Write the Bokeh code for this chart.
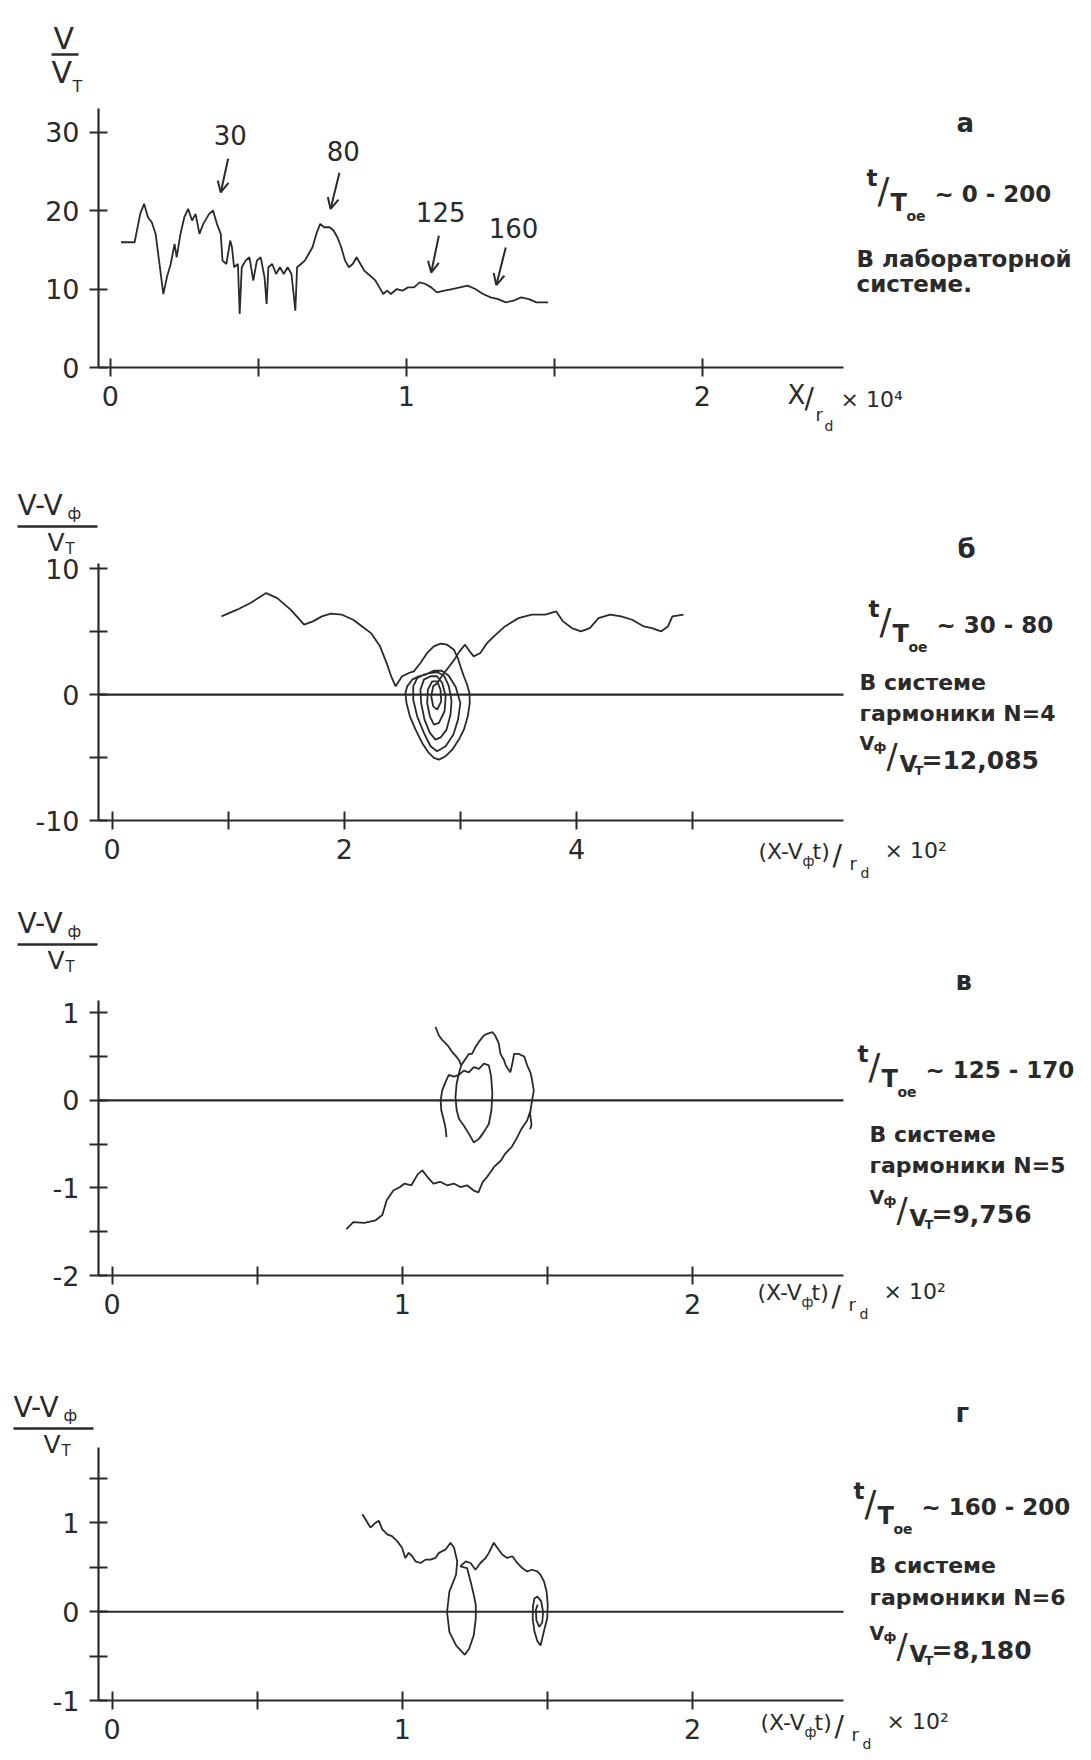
import numpy as np
from bokeh.plotting import figure
from bokeh.models import Label, Arrow, OpenHead, FixedTicker
from bokeh.layouts import column
from bokeh.embed import file_html
from bokeh.resources import INLINE

NAN = np.nan
INK = "#2a2a2a"
FONT = "DejaVu Sans"

# ---------------- panel а : V/V_T vs X/r_d x 10^4 ----------------
a_x = [0.036, 0.082, 0.101, 0.114, 0.127, 0.140, 0.153, 0.166, 0.179, 0.191, 0.204, 0.217, 0.224,
       0.237, 0.250, 0.263, 0.276, 0.288, 0.301, 0.314, 0.334, 0.347, 0.360, 0.373, 0.379, 0.392,
       0.405, 0.411, 0.418, 0.431, 0.437, 0.444, 0.457, 0.470, 0.483, 0.495, 0.508, 0.521, 0.528,
       0.534, 0.547, 0.560, 0.573, 0.586, 0.599, 0.612, 0.625, 0.631, 0.644, 0.657, 0.670, 0.683,
       0.696, 0.709, 0.722, 0.741, 0.754, 0.767, 0.780, 0.793, 0.806, 0.819, 0.832, 0.845, 0.858,
       0.871, 0.884, 0.896, 0.909, 0.922, 0.935, 0.948, 0.968, 0.987, 1.006, 1.026, 1.045, 1.065,
       1.084, 1.103, 1.129, 1.155, 1.181, 1.207, 1.233, 1.259, 1.285, 1.310, 1.336, 1.362, 1.388,
       1.414, 1.440, 1.479]
a_y = [15.96, 15.96, 19.57, 20.85, 19.15, 18.51, 17.02, 13.19, 9.36, 11.49, 13.19, 15.74, 14.04,
       17.02, 19.15, 20.21, 18.72, 19.57, 17.02, 18.30, 19.57, 20.00, 18.30, 17.02, 13.62, 13.19,
       16.17, 15.32, 12.77, 13.19, 6.81, 12.77, 13.62, 14.04, 11.06, 13.62, 14.04, 11.49, 8.09,
       12.77, 13.19, 11.91, 12.77, 11.91, 12.77, 11.91, 7.23, 12.77, 13.19, 13.62, 14.47, 15.32,
       17.02, 18.30, 17.87, 17.87, 17.45, 16.60, 15.32, 13.62, 12.77, 13.19, 14.04, 13.19, 12.34,
       11.91, 11.49, 11.06, 10.21, 9.36, 9.79, 9.36, 10.00, 9.79, 10.21, 10.21, 10.85, 10.64,
       10.21, 9.57, 9.79, 10.00, 10.21, 10.43, 10.00, 9.36, 8.94, 8.72, 8.30, 8.51, 8.94,
       8.72, 8.30, 8.30]
a_marks = ["30", "80", "125", "160"]
a_mark_x = [0.405, 0.787, 1.116, 1.362]
a_mark_y = [29.6, 27.6, 19.8, 17.8]
a_arrow_x0 = [0.398, 0.774, 1.110, 1.336]
a_arrow_y0 = [26.6, 24.8, 16.8, 15.3]
a_arrow_x1 = [0.373, 0.744, 1.084, 1.304]
a_arrow_y1 = [22.3, 20.2, 12.1, 10.5]
a_xticks = [0, 0.5, 1, 1.5, 2]
a_xtick_labels = ["0", "", "1", "", "2"]
a_yticks = [0, 10, 20, 30]
a_ytick_labels = ["0", "10", "20", "30"]

# ---------------- panel б : N=4 ----------------
b_x = [0.942, 1.077, 1.192, 1.327, 1.423, 1.538, 1.654, 1.730, 1.807, 1.884, 1.980, 2.077, 2.154,
       2.230, 2.308, 2.365, 2.404, 2.442, 2.498, 2.556, 2.599, 2.656, 2.714, 2.771, 2.829, 2.886,
       2.944, 2.978, 3.000, 3.030, 3.058, 3.078, 3.081, 3.064, 3.030, 2.987, 2.930, 2.873, 2.815,
       2.772, 2.728, 2.671, 2.614, 2.565, 2.536, 2.527, 2.542, 2.585, 2.642, 2.700, 2.770, 2.840,
       2.900, 2.960, 3.000, 2.980, 2.940, 2.873, 2.800, 2.743, 2.686, 2.628, 2.594, 2.594, 2.628,
       2.686, 2.743, 2.800, 2.860, 2.900, 2.924, 2.915, 2.880, 2.830, 2.786, 2.737, 2.691, 2.662,
       2.656, 2.686, 2.743, 2.800, 2.844, 2.873, 2.864, 2.815, 2.772, 2.737, 2.714, 2.720, 2.757,
       2.800, 2.829, 2.835, 2.800, 2.766, 2.749, 2.766, 2.800, 2.850, 2.900, 2.950, 2.990, 3.040,
       3.080, 3.115, 3.172, 3.230, 3.288, 3.384, 3.500, 3.615, 3.730, 3.826, 3.884, 3.960, 4.038,
       4.115, 4.190, 4.288, 4.384, 4.480, 4.580, 4.650, 4.730, 4.788, 4.826, 4.922]
b_y = [6.22, 6.75, 7.28, 8.07, 7.67, 6.75, 5.56, 5.82, 6.22, 6.43, 6.35, 5.95, 5.42,
       4.89, 3.84, 2.51, 1.46, 0.66, 1.46, 1.72, 1.85, 2.51, 3.31, 3.84, 4.05, 3.97,
       3.57, 2.91, 2.25, 1.46, 0.79, 0.13, -0.66, -1.72, -2.78, -3.57, -4.37, -4.89, -5.16,
       -5.03, -4.63, -3.84, -2.78, -1.72, -0.66, 0.13, 0.66, 1.19, 1.46, 1.59, 1.90, 1.90,
       1.50, 0.60, -0.66, -1.98, -3.17, -4.10, -4.50, -4.10, -3.04, -1.72, -0.40, 0.66, 1.32,
       1.59, 1.72, 1.80, 1.50, 0.70, -0.50, -1.60, -2.80, -3.40, -3.57, -3.04, -1.98, -0.66,
       0.40, 1.19, 1.46, 1.46, 0.93, -0.13, -1.32, -2.25, -2.38, -1.72, -0.66, 0.40, 1.06,
       1.06, 0.40, -0.53, -1.19, -0.93, -0.13, 0.66, 0.90, 1.60, 2.20, 2.80, 3.40, 3.97,
       3.44, 3.04, 3.31, 4.10, 4.63, 5.42, 6.08, 6.35, 6.35, 6.61, 5.82, 5.29, 5.03,
       5.29, 6.08, 6.35, 6.22, 5.95, 5.42, 5.29, 5.03, 5.42, 6.22, 6.35]
b_xticks = [0, 1, 2, 3, 4, 5]
b_xtick_labels = ["0", "", "2", "", "4", ""]
b_yticks = [-10, -5, 0, 5, 10]
b_ytick_labels = ["-10", "", "0", "", "10"]

# ---------------- panel в : N=5 ----------------
c_x = [0.807, 0.831, 0.869, 0.908, 0.931, 0.946, 0.969, 0.992, 1.008, 1.031, 1.054, 1.069, 1.085,
       1.107, 1.130, 1.154, 1.177, 1.200, 1.223, 1.246, 1.262, 1.277, 1.293, 1.316, 1.339, 1.354,
       1.377, 1.393, 1.408, 1.430, 1.442, 1.447, 1.453, 1.447, 1.442, 1.430, 1.420, 1.400, 1.385,
       1.379, 1.372, 1.356, 1.350, 1.338, 1.332, 1.320, 1.310, 1.292, 1.281, 1.264, 1.252, 1.240,
       1.229, 1.215, 1.203, 1.195, 1.187, 1.183, 1.187, 1.195, 1.212, 1.229, 1.246, 1.264, 1.281,
       1.298, 1.307, 1.310, 1.306, 1.298, 1.281, 1.264, 1.246, 1.229, 1.212, 1.195, 1.178, 1.160,
       1.149, 1.137, 1.132, 1.134, 1.143, 1.149, 1.152, NAN,
       1.114, 1.126, 1.137, 1.149, 1.160, 1.172, 1.183, 1.195, 1.203, NAN,
       1.447, 1.440, 1.445, 1.440]
c_y = [-1.47, -1.39, -1.40, -1.37, -1.31, -1.14, -1.03, -0.99, -0.95, -0.97, -0.84, -0.80, -0.87,
       -0.95, -0.93, -0.97, -0.95, -0.99, -0.97, -1.03, -1.05, -0.93, -0.87, -0.76, -0.69, -0.61,
       -0.53, -0.44, -0.34, -0.23, -0.11, 0.00, 0.11, 0.23, 0.31, 0.40, 0.50, 0.53, 0.53,
       0.42, 0.32, 0.40, 0.46, 0.53, 0.65, 0.74, 0.78, 0.76, 0.74, 0.67, 0.61, 0.53,
       0.53, 0.46, 0.40, 0.31, 0.19, 0.04, -0.11, -0.21, -0.29, -0.38, -0.48, -0.44, -0.36,
       -0.27, -0.11, 0.08, 0.27, 0.40, 0.42, 0.36, 0.38, 0.32, 0.34, 0.29, 0.27, 0.29,
       0.21, 0.11, 0.00, -0.11, -0.23, -0.32, -0.42, NAN,
       0.84, 0.74, 0.69, 0.65, 0.61, 0.55, 0.51, 0.46, 0.40, NAN,
       0.00, -0.15, -0.28, -0.33]
c_xticks = [0, 0.5, 1, 1.5, 2]
c_xtick_labels = ["0", "", "1", "", "2"]
c_yticks = [-2, -1.5, -1, -0.5, 0, 0.5, 1]
c_ytick_labels = ["-2", "", "-1", "", "0", "", "1"]

# ---------------- panel г : N=6 ----------------
d_x = [0.862, 0.873, 0.890, 0.908, 0.919, 0.931, 0.948, 0.964, 0.982, 0.999, 1.010, 1.022, 1.034,
       1.045, 1.063, 1.080, 1.097, 1.114, 1.126, 1.137, 1.149, 1.166, 1.178, 1.189, 1.185, 1.162,
       1.154, 1.162, 1.185, 1.215, 1.230, 1.246, 1.253, 1.253, 1.246, 1.238, 1.223, 1.200, 1.218,
       1.235, 1.252, 1.269, 1.287, 1.298, 1.315, 1.327, 1.344, 1.361, 1.379, 1.396, 1.413, 1.430,
       1.447, 1.465, 1.476, 1.488, 1.497, 1.501, 1.499, 1.490, 1.482, 1.476, 1.465, 1.455, 1.449,
       1.450, 1.455, 1.465, 1.478, 1.485, 1.482, 1.472, 1.462, 1.460, 1.466]
d_y = [1.098, 1.042, 0.947, 1.004, 1.023, 0.928, 0.871, 0.852, 0.795, 0.720, 0.606, 0.663, 0.625,
       0.568, 0.549, 0.587, 0.587, 0.606, 0.663, 0.682, 0.700, 0.777, 0.720, 0.568, 0.417, 0.227,
       0.000, -0.227, -0.379, -0.485, -0.417, -0.265, -0.076, 0.076, 0.190, 0.303, 0.492, 0.511, 0.568,
       0.549, 0.473, 0.549, 0.606, 0.663, 0.777, 0.720, 0.644, 0.606, 0.625, 0.549, 0.492, 0.454,
       0.473, 0.454, 0.416, 0.341, 0.227, 0.076, -0.076, -0.190, -0.300, -0.380, -0.330, -0.220, -0.080,
       0.060, 0.150, 0.170, 0.120, 0.000, -0.120, -0.170, -0.100, 0.020, 0.080]
d_xticks = [0, 0.5, 1, 1.5, 2]
d_xtick_labels = ["0", "", "1", "", "2"]
d_yticks = [-1, -0.5, 0, 0.5, 1, 1.5]
d_ytick_labels = ["-1", "", "0", "", "1", ""]

# ---------------- layout geometry (page pixels; page starts at 0,0) ----------------
W = 1090
AX_L, AX_R = 98, 843          # page x of the y-axis line and of the x-axis right end
SPEC = {
    "a": dict(top=0, h=440, ft=108, fb=367, x0=-0.040, x1=2.477, y0=0.0, y1=33.0),
    "b": dict(top=440, h=450, ft=563, fb=820, x0=-0.117, x1=6.30, y0=-10.0, y1=10.42),
    "c": dict(top=890, h=455, ft=1000, fb=1275, x0=-0.047, x1=2.52, y0=-2.0, y1=1.14),
    "d": dict(top=1345, h=411, ft=1447, fb=1700, x0=-0.047, x1=2.52, y0=-1.0, y1=1.85),
}


def to_data(s, X, Y):
    x = s["x0"] + (X - AX_L) / (AX_R - AX_L) * (s["x1"] - s["x0"])
    y = s["y1"] - (Y - s["ft"]) / (s["fb"] - s["ft"]) * (s["y1"] - s["y0"])
    return x, y


def make_fig(s, xticks, xlabels, yticks, ylabels):
    xl, yt = to_data(s, 0, s["top"])
    xr, yb = to_data(s, W, s["top"] + s["h"])
    p = figure(width=W, height=s["h"], x_range=(xl, xr), y_range=(yb, yt),
               output_backend="svg", toolbar_location=None,
               min_border_left=0, min_border_right=0, min_border_top=0, min_border_bottom=0)
    p.title.visible = False
    p.outline_line_color = None
    p.grid.visible = False
    p.background_fill_color = "white"
    p.border_fill_color = "white"
    p.xaxis.fixed_location = s["y0"]
    p.xaxis.bounds = (s["x0"], s["x1"])
    p.yaxis.fixed_location = s["x0"]
    p.yaxis.bounds = (s["y0"], s["y1"])
    for ax, t, l, st in ((p.xaxis[0], xticks, xlabels, 9), (p.yaxis[0], yticks, ylabels, 10)):
        ax.ticker = FixedTicker(ticks=t)
        ax.major_label_overrides = {k: v for k, v in zip(t, l)}
        ax.axis_line_color = INK
        ax.axis_line_width = 2.2
        ax.major_tick_line_color = INK
        ax.major_tick_line_width = 2
        ax.major_tick_in = 9
        ax.major_tick_out = 9
        ax.minor_tick_line_color = None
        ax.major_label_text_font = FONT
        ax.major_label_text_font_size = "27px"
        ax.major_label_text_color = INK
        ax.major_label_standoff = st
    return p


def zero_line(p, s):
    p.segment(x0=[s["x0"]], y0=[0], x1=[s["x1"]], y1=[0], line_color=INK, line_width=2.2)


def frac_bar(p, s, X0, X1, Y):
    xa, ya = to_data(s, X0, Y)
    xb, _ = to_data(s, X1, Y)
    p.segment(x0=[xa], y0=[ya], x1=[xb], y1=[ya], line_color=INK, line_width=2.5)


def add_texts(p, s, items):
    for X, Y, t, size, style in items:
        x, y = to_data(s, X, Y)
        p.add_layout(Label(x=x, y=y, text=t, text_font=FONT, text_font_size=f"{size}px",
                           text_font_style=style, text_color=INK, text_align="left",
                           text_baseline="middle"))


def t_over_T(X, Y, rng):
    return [(X, Y - 16, "t", 23, "bold"), (X + 11, Y - 3, "/", 35, "normal"),
            (X + 24, Y + 9, "T", 24, "bold"), (X + 40, Y + 22, "ое", 14, "bold"),
            (X + 68, Y, rng, 23, "bold")]


def v_ratio(X, Y, val):
    return [(X, Y - 18, "V", 19, "bold"), (X + 14, Y - 14, "ф", 13, "bold"),
            (X + 27, Y - 4, "/", 33, "normal"), (X + 40, Y + 3, "V", 23, "bold"),
            (X + 55, Y + 10, "T", 13, "bold"), (X + 62, Y, val, 25, "bold")]


def x_title(X, Y, power):
    return [(X, Y, "(X-V", 22, "normal"), (X + 44, Y + 9, "ф", 14, "normal"),
            (X + 54, Y, "t)", 22, "normal"), (X + 74, Y + 4, "/", 28, "normal"),
            (X + 91, Y + 12, "r", 18, "normal"), (X + 102, Y + 21, "d", 14, "normal"),
            (X + 126, Y - 1, "× 10" + power, 22, "normal")]


def dv_label(p, s, X, Y):
    frac_bar(p, s, X, X + 80, Y + 21)
    return [(X, Y, "V-V", 28, "normal"), (X + 50, Y + 8, "ф", 16, "normal"),
            (X + 30, Y + 37, "V", 25, "normal"), (X + 48, Y + 43, "T", 15, "normal")]


def trace(p, xs, ys):
    p.line(np.array(xs, dtype=float), np.array(ys, dtype=float), line_color=INK, line_width=1.8)


# ---- panel а
sa = SPEC["a"]
pa = make_fig(sa, a_xticks, a_xtick_labels, a_yticks, a_ytick_labels)
trace(pa, a_x, a_y)
for lab, lx, ly, x0, y0, x1, y1 in zip(a_marks, a_mark_x, a_mark_y, a_arrow_x0, a_arrow_y0, a_arrow_x1, a_arrow_y1):
    pa.add_layout(Label(x=lx, y=ly, text=lab, text_font=FONT, text_font_size="26px", text_color=INK,
                        text_align="center", text_baseline="middle"))
    pa.add_layout(Arrow(x_start=x0, y_start=y0, x_end=x1, y_end=y1, line_color=INK, line_width=2,
                        end=OpenHead(size=11, line_color=INK, line_width=2)))
frac_bar(pa, sa, 51, 78, 54)
add_texts(pa, sa, [(53, 38, "V", 30, "normal"),
                   (51, 72, "V", 30, "normal"), (72, 86, "T", 16, "normal"),
                   (956, 122, "а", 26, "bold"),
                   (856, 258, "В лабораторной", 23, "bold"), (856, 283, "системе.", 23, "bold"),
                   (787, 394, "X", 26, "normal"), (804, 398, "/", 28, "normal"),
                   (815, 414, "r", 18, "normal"), (824, 425, "d", 14, "normal"),
                   (840, 399, "× 10⁴", 22, "normal")]
          + t_over_T(866, 193, "~ 0 - 200"))

# ---- panel б
sb = SPEC["b"]
pb = make_fig(sb, b_xticks, b_xtick_labels, b_yticks, b_ytick_labels)
zero_line(pb, sb)
trace(pb, b_x, b_y)
add_texts(pb, sb, dv_label(pb, sb, 17, 505)
          + [(957, 548, "б", 26, "bold"),
             (859, 682, "В системе", 22, "bold"), (859, 713, "гармоники N=4", 22, "bold")]
          + t_over_T(868, 624, "~ 30 - 80")
          + v_ratio(859, 760, "=12,085")
          + x_title(758, 851, "²"))

# ---- panel в
sc = SPEC["c"]
pc = make_fig(sc, c_xticks, c_xtick_labels, c_yticks, c_ytick_labels)
zero_line(pc, sc)
trace(pc, c_x, c_y)
add_texts(pc, sc, dv_label(pc, sc, 17, 923)
          + [(955, 980, "в", 26, "bold"),
             (869, 1134, "В системе", 22, "bold"), (869, 1165, "гармоники N=5", 22, "bold")]
          + t_over_T(857, 1069, "~ 125 - 170")
          + v_ratio(869, 1214, "=9,756")
          + x_title(757, 1292, "²"))

# ---- panel г
sd = SPEC["d"]
pd = make_fig(sd, d_xticks, d_xtick_labels, d_yticks, d_ytick_labels)
zero_line(pd, sd)
trace(pd, d_x, d_y)
add_texts(pd, sd, dv_label(pd, sd, 13, 1407)
          + [(955, 1412, "г", 26, "bold"),
             (869, 1565, "В системе", 22, "bold"), (869, 1597, "гармоники N=6", 22, "bold")]
          + t_over_T(853, 1506, "~ 160 - 200")
          + v_ratio(869, 1650, "=8,180")
          + x_title(760, 1722, "²"))

layout = column(pa, pb, pc, pd, spacing=0)
open("out.html", "w").write(file_html(layout, INLINE))
